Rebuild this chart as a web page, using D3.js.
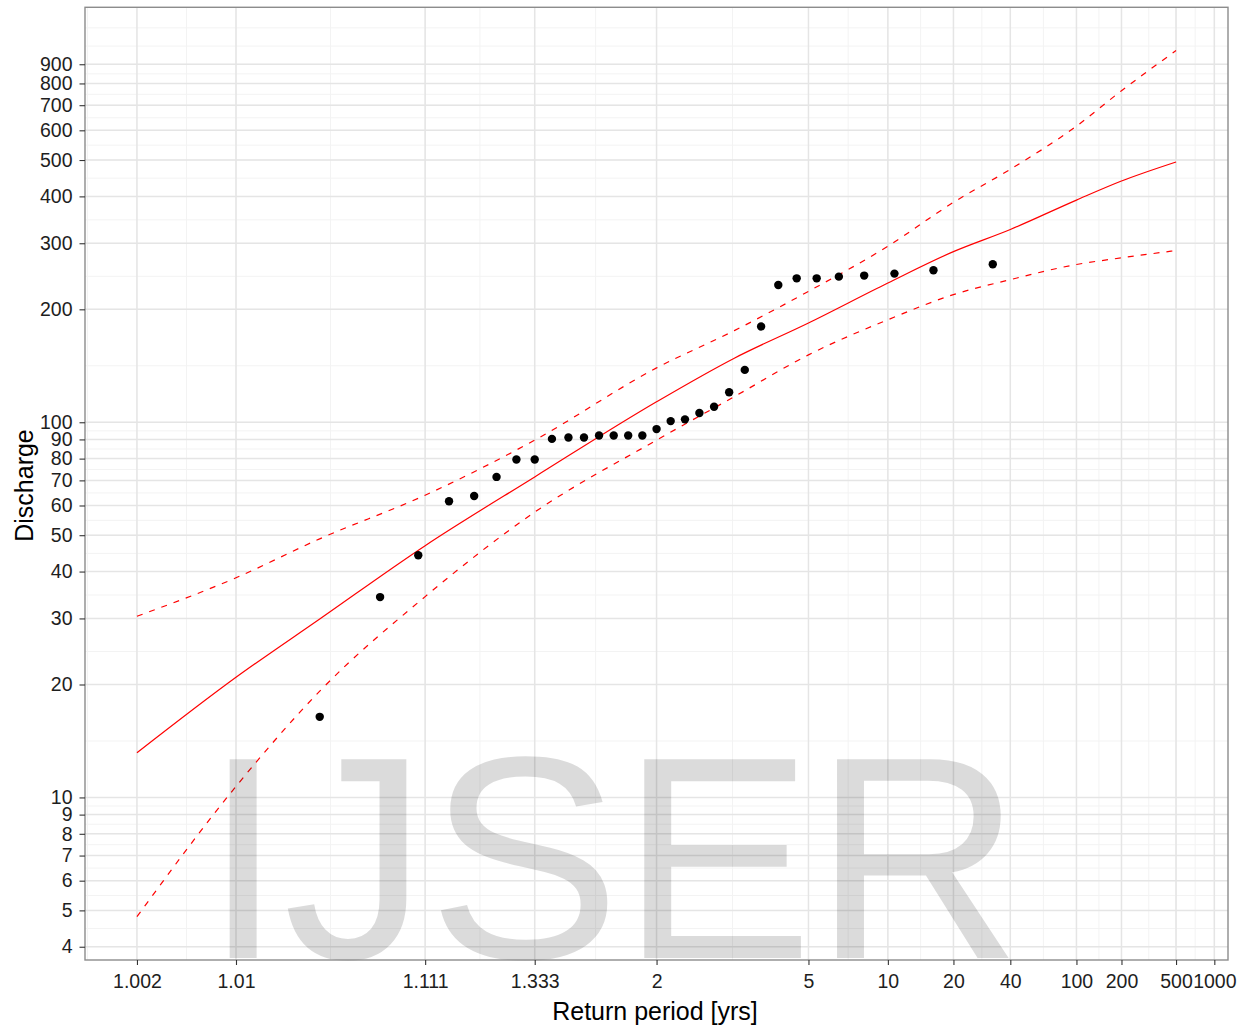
<!DOCTYPE html>
<html lang='en'>
  <head>
    <meta charset="UTF-8">
    <title>Return period plot</title>
    <script src="https://cdn.jsdelivr.net/npm/d3@7"></script>
    <style type="text/css" media="screen">
      body { margin: 0; background: #fff; font-family: "Liberation Sans", Arial, sans-serif; }
      svg { display: block; }
    </style>
  </head>
<body>
  <script>

// observed annual maxima (return period, discharge)
var obsPeriod = [1.032, 1.067, 1.103, 1.143, 1.185, 1.231, 1.28, 1.333, 1.391, 1.455, 1.524,
                 1.6, 1.684, 1.778, 1.882, 2, 2.133, 2.286, 2.462, 2.667, 2.909, 3.2, 3.556,
                 4, 4.571, 5.333, 6.4, 8, 10.667, 16, 32];
var obsQ = [16.4, 34.2, 44.2, 61.6, 63.6, 71.5, 79.6, 79.6, 90.3, 91.1, 91.1,
            92.2, 92.2, 92.2, 92.2, 95.9, 100.7, 101.8, 105.8, 110.0, 120.2, 137.9, 180.0,
            232.3, 241.9, 241.9, 244.4, 246.0, 249.0, 254.1, 263.8];

// fitted quantiles and confidence band
var fitPeriod = [1.002, 1.01, 1.032, 1.111, 1.333, 2, 3, 5, 10, 20, 40, 100, 200, 500];
var fitQ   = [13.15, 20.9, 29.9, 46.9, 71.5, 113.4, 148.2, 183.9, 235.1, 285, 326.5, 391, 439.5, 494];
var upperQ = [30.4, 38.5, 48.9, 63.9, 89.6, 139.6, 175.5, 223.3, 294.6, 385.6, 472.3, 615.6, 765, 978.6];
var lowerQ = [4.81, 10.7, 19.2, 34.3, 57.6, 89.6, 117, 151.2, 187.6, 218.9, 240, 263.3, 274.3, 286.9];

// axis breaks
var xTicks = [1.002, 1.01, 1.111, 1.333, 2, 5, 10, 20, 40, 100, 200, 500, 1000];
var xLabels = ["1.002", "1.01", "1.111", "1.333", "2", "5", "10", "20", "40", "100", "200", "500", "1000"];
var yTicks = [4, 5, 6, 7, 8, 9, 10, 20, 30, 40, 50, 60, 70, 80, 90, 100, 200, 300, 400, 500, 600, 700, 800, 900];

// inverse normal cdf (Acklam)
function probit(p) {
  var a = [-3.969683028665376e+01, 2.209460984245205e+02, -2.759285104469687e+02, 1.383577518672690e+02, -3.066479806614716e+01, 2.506628277459239e+00];
  var b = [-5.447609879822406e+01, 1.615858368580409e+02, -1.556989798598866e+02, 6.680131188771972e+01, -1.328068155288572e+01];
  var c = [-7.784894002430293e-03, -3.223964580411365e-01, -2.400758277161838e+00, -2.549732539343734e+00, 4.374664141464968e+00, 2.938163982698783e+00];
  var d = [7.784695709041462e-03, 3.224671290700398e-01, 2.445134137142996e+00, 3.754408661907416e+00];
  var q, r;
  if (p < 0.02425) {
    q = Math.sqrt(-2 * Math.log(p));
    return (((((c[0]*q+c[1])*q+c[2])*q+c[3])*q+c[4])*q+c[5]) / ((((d[0]*q+d[1])*q+d[2])*q+d[3])*q+1);
  }
  if (p <= 1 - 0.02425) {
    q = p - 0.5; r = q * q;
    return (((((a[0]*r+a[1])*r+a[2])*r+a[3])*r+a[4])*r+a[5])*q / (((((b[0]*r+b[1])*r+b[2])*r+b[3])*r+b[4])*r+1);
  }
  q = Math.sqrt(-2 * Math.log(1 - p));
  return -(((((c[0]*q+c[1])*q+c[2])*q+c[3])*q+c[4])*q+c[5]) / ((((d[0]*q+d[1])*q+d[2])*q+d[3])*q+1);
}
function zOf(T) { return probit(1 - 1 / T); }

var W = 1243, H = 1026;
var pLeft = 85, pRight = 1228, pTop = 7.3, pBottom = 960;

// ggplot-like 5% expansion
var zLo = zOf(d3.min(fitPeriod)), zHi = zOf(d3.max(fitPeriod));
var zPad = (zHi - zLo) * 0.05;
var x = d3.scaleLinear().domain([zLo - zPad, zHi + zPad]).range([pLeft, pRight]);

var lLo = Math.log10(d3.min(lowerQ)), lHi = Math.log10(d3.max(upperQ));
var lPad = (lHi - lLo) * 0.05;
var y = d3.scaleLog().domain([Math.pow(10, lLo - lPad), Math.pow(10, lHi + lPad)]).range([pBottom, pTop]);

var svg = d3.select("body").append("svg").attr("width", W).attr("height", H);

// minor breaks: midpoints in transformed space, extended by the first gap
function minorBreaks(b, lim) {
  var bd = b[1] - b[0];
  var bb = b.slice();
  if (lim[0] < bb[0]) bb.unshift(bb[0] - bd);
  if (lim[1] > bb[bb.length - 1]) bb.push(bb[bb.length - 1] + bd);
  var out = [];
  for (var i = 0; i < bb.length - 1; i++) out.push(bb[i], (bb[i] + bb[i + 1]) / 2);
  out.push(bb[bb.length - 1]);
  return out.filter(function(v) { return v >= lim[0] && v <= lim[1]; });
}
var xz = xTicks.map(zOf);
var xMinor = minorBreaks(xz, x.domain());
var yl = yTicks.map(Math.log10);
var yMinor = minorBreaks(yl, y.domain().map(Math.log10));

var grid = svg.append("g");
grid.selectAll(".mx").data(xMinor).enter().append("line")
  .attr("x1", function(d){ return x(d); }).attr("x2", function(d){ return x(d); })
  .attr("y1", pTop).attr("y2", pBottom)
  .attr("stroke", "#f3f3f3").attr("stroke-width", 1);
grid.selectAll(".my").data(yMinor).enter().append("line")
  .attr("y1", function(d){ return y(Math.pow(10, d)); }).attr("y2", function(d){ return y(Math.pow(10, d)); })
  .attr("x1", pLeft).attr("x2", pRight)
  .attr("stroke", "#f3f3f3").attr("stroke-width", 1);
grid.selectAll(".gx").data(xz).enter().append("line")
  .attr("x1", function(d){ return x(d); }).attr("x2", function(d){ return x(d); })
  .attr("y1", pTop).attr("y2", pBottom)
  .attr("stroke", "#e5e5e5").attr("stroke-width", 1.5);
grid.selectAll(".gy").data(yTicks).enter().append("line")
  .attr("y1", function(d){ return y(d); }).attr("y2", function(d){ return y(d); })
  .attr("x1", pLeft).attr("x2", pRight)
  .attr("stroke", "#e5e5e5").attr("stroke-width", 1.5);

// fitted curve and confidence limits
function curve(vals) {
  return d3.line()
    .curve(d3.curveMonotoneX)
    .x(function(d, i){ return x(zOf(fitPeriod[i])); })
    .y(function(d){ return y(d); })(vals);
}
svg.append("path").attr("d", curve(fitQ))
  .attr("fill", "none").attr("stroke", "#ff0000").attr("stroke-width", 1.2);
[upperQ, lowerQ].forEach(function(v) {
  svg.append("path").attr("d", curve(v))
    .attr("fill", "none").attr("stroke", "#ff0000").attr("stroke-width", 1.2)
    .attr("stroke-dasharray", "6,7");
});

svg.append("g").selectAll("circle").data(obsQ).enter().append("circle")
  .attr("cx", function(d, i){ return x(zOf(obsPeriod[i])); })
  .attr("cy", function(d){ return y(d); })
  .attr("r", 4.2)
  .attr("fill", "#000");

// watermark
svg.append("text")
  .attr("x", 203).attr("y", 958)
  .attr("font-size", 289)
  .attr("fill", "#000").attr("fill-opacity", 0.14)
  .text("IJSER");

// panel border
svg.append("rect")
  .attr("x", pLeft).attr("y", pTop)
  .attr("width", pRight - pLeft).attr("height", pBottom - pTop)
  .attr("fill", "none").attr("stroke", "#8c8c8c").attr("stroke-width", 1.4);

// axes
var xAxis = svg.append("g").attr("transform", "translate(0," + pBottom + ")")
  .call(d3.axisBottom(x).tickValues(xz).tickFormat(function(d, i){ return xLabels[i]; })
    .tickSize(5).tickPadding(9));
var yAxis = svg.append("g").attr("transform", "translate(" + pLeft + ",0)")
  .call(d3.axisLeft(y).tickValues(yTicks).tickFormat(d3.format("d"))
    .tickSize(5.5).tickPadding(7));
[xAxis, yAxis].forEach(function(g) {
  g.select(".domain").remove();
  g.selectAll(".tick line").attr("stroke", "#333").attr("stroke-width", 1.1);
  g.selectAll(".tick text").attr("fill", "#1e1e1e")
    .attr("font-family", "'Liberation Sans', Arial, sans-serif").attr("font-size", 19.5);
});

svg.append("text")
  .attr("x", 655).attr("y", 1020)
  .attr("text-anchor", "middle")
  .attr("font-size", 25).attr("fill", "#000")
  .text("Return period [yrs]");
svg.append("text")
  .attr("transform", "translate(33,485.5) rotate(-90)")
  .attr("text-anchor", "middle")
  .attr("font-size", 25).attr("fill", "#000")
  .text("Discharge");

  </script>
</body>
</html>
